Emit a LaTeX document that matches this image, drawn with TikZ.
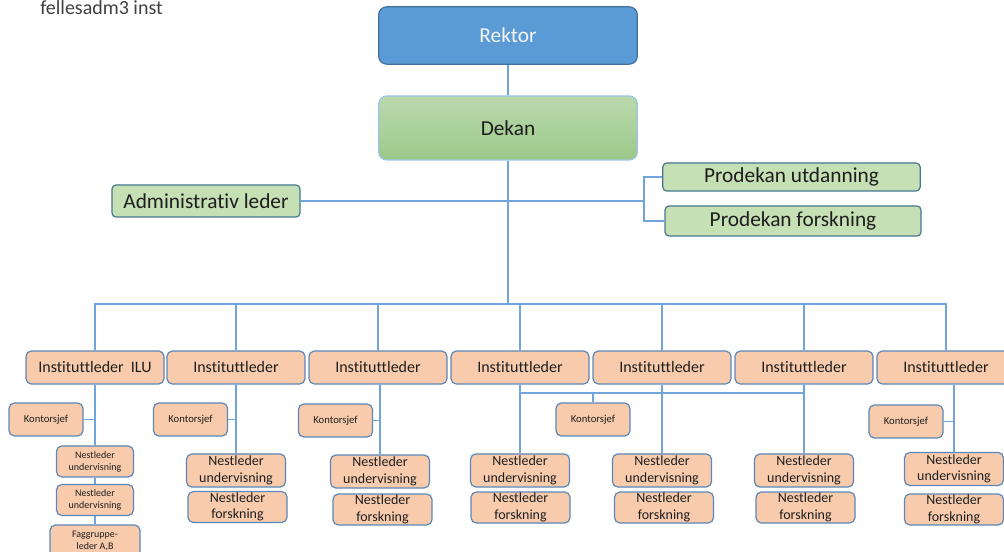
\documentclass[tikz,border=0pt]{standalone}
\usepackage{fontspec}
\setmainfont{Carlito}[Ligatures=NoCommon]
\usepackage{xcolor}
\usetikzlibrary{calc}
\definecolor{rektorblue}{HTML}{5B9BD5}
\definecolor{darkborder}{HTML}{41719C}
\definecolor{dekantop}{HTML}{BAD9AD}
\definecolor{dekanbot}{HTML}{9CC98A}
\definecolor{lightborder}{HTML}{9DC3E6}
\definecolor{staffgreen}{HTML}{C5E0B4}
\definecolor{staffborder}{HTML}{46778F}
\definecolor{instorange}{HTML}{F8CBAD}
\definecolor{instborder}{HTML}{5B87B9}
\definecolor{linkblue}{HTML}{6FA4DC}
\definecolor{textdark}{HTML}{1E1E1E}
\tikzset{topbox/.style={rectangle,draw=darkborder,line width=0.9pt,fill=rektorblue,rounded corners=6pt,minimum width=194pt,minimum height=43pt,text=white!92!gray,font=\fontsize{16}{19}\selectfont},
         deanbox/.style={rectangle,draw=lightborder,line width=0.9pt,top color=dekantop,bottom color=dekanbot,rounded corners=6pt,minimum width=194pt,minimum height=48pt,text=textdark,font=\fontsize{16}{19}\selectfont},
         staffbox/.style={rectangle,draw=staffborder,line width=0.9pt,fill=staffgreen,rounded corners=3pt,inner sep=0pt,text=textdark,font=\fontsize{16}{19}\selectfont},
         instbox/.style={rectangle,draw=instborder,line width=0.9pt,fill=instorange,rounded corners=4pt,minimum width=103.5pt,minimum height=24.75pt,inner sep=0pt,text=textdark,font=\fontsize{12}{14}\selectfont},
         officebox/.style={rectangle,draw=instborder,line width=0.9pt,fill=instorange,rounded corners=4pt,minimum width=55.5pt,minimum height=24.75pt,inner sep=0pt,text=textdark,font=\fontsize{8}{9.5}\selectfont},
         deputybox/.style={rectangle,draw=instborder,line width=0.9pt,fill=instorange,rounded corners=4pt,minimum width=74.25pt,minimum height=24.75pt,inner sep=0pt,align=center,text=textdark,font=\fontsize{10.5}{12.4}\selectfont},
         tinybox/.style={rectangle,draw=instborder,line width=0.9pt,fill=instorange,rounded corners=4pt,minimum width=57.75pt,minimum height=23.25pt,inner sep=0pt,align=center,text=textdark,font=\fontsize{7.5}{9}\selectfont},
         link/.style={draw=linkblue,line width=1.1pt}}
\begin{document}
\begin{tikzpicture}[x=0.75pt,y=-0.75pt]
    \useasboundingbox (0,0) rectangle (1004,552);
    \clip (0,0) rectangle (1004,552);
    % Title
    \node (title) at (40,15) [anchor=base west,inner sep=0pt,text=textdark!85,font=\fontsize{15}{18}\selectfont]{fellesadm3 inst};
    % Top level
    \node (rektor) at (508,35.5) [topbox]{Rektor};
    \node (dekan) at (508,128) [deanbox]{Dekan};
    \node (admin) at (206,201) [staffbox,minimum width=141pt,minimum height=24pt]{Administrativ leder};
    \node (produt) at (791.5,177) [staffbox,minimum width=193pt,minimum height=21pt]{Prodekan utdanning};
    \node (prodforsk) at (793,221) [staffbox,minimum width=192pt,minimum height=22.5pt]{Prodekan forskning};
    \coordinate (split) at (644,201);
    \coordinate (bus) at (508,304);
    % Institutes
    \node (inst1) at (95,367.5) [instbox]{Instituttleder\ \ ILU};
    \node (inst2) at (236,367.5) [instbox]{Instituttleder};
    \node (inst3) at (378,367.5) [instbox]{Instituttleder};
    \node (inst4) at (520,367.5) [instbox]{Instituttleder};
    \node (inst5) at (662,367.5) [instbox]{Instituttleder};
    \node (inst6) at (804,367.5) [instbox]{Instituttleder};
    \node (inst7) at (946,367.5) [instbox]{Instituttleder};
    % Offices
    \node (office1) at (46,419.5) [officebox]{Kontorsjef};
    \node (office2) at (190.5,419.5) [officebox]{Kontorsjef};
    \node (office3) at (335.5,420.5) [officebox]{Kontorsjef};
    \node (office45) at (593,419.5) [officebox]{Kontorsjef};
    \node (office7) at (906,421.5) [officebox]{Kontorsjef};
    \coordinate (hub) at (593,393);
    % Deputies, ILU
    \node (iluedu1) at (95,461.5) [tinybox]{Nestleder\\undervisning};
    \node (iluedu2) at (95,500) [tinybox]{Nestleder\\undervisning};
    \node (group) at (95,541) [tinybox,minimum width=67.5pt,minimum height=24pt]{Faggruppe-\\leder A,B};
    % Deputies
    \node (edu2) at (236,470.5) [deputybox]{Nestleder\\undervisning};
    \node (res2) at (237.5,507) [deputybox,minimum height=23.25pt]{Nestleder\\forskning};
    \node (edu3) at (380,471.5) [deputybox]{Nestleder\\undervisning};
    \node (res3) at (382.5,509.5) [deputybox,minimum height=23.25pt]{Nestleder\\forskning};
    \node (edu4) at (520,470.5) [deputybox]{Nestleder\\undervisning};
    \node (res4) at (520.5,507.5) [deputybox,minimum height=23.25pt]{Nestleder\\forskning};
    \node (edu5) at (662,470.5) [deputybox]{Nestleder\\undervisning};
    \node (res5) at (664,507.5) [deputybox,minimum height=23.25pt]{Nestleder\\forskning};
    \node (edu6) at (804,470.5) [deputybox]{Nestleder\\undervisning};
    \node (res6) at (805.5,507.5) [deputybox,minimum height=23.25pt]{Nestleder\\forskning};
    \node (edu7) at (954,469) [deputybox]{Nestleder\\undervisning};
    \node (res7) at (954,509.5) [deputybox,minimum height=23.25pt]{Nestleder\\forskning};
    % Links, top
    \draw[link] (rektor.south) -- (dekan.north);
    \draw[link] (dekan.south) -- (bus);
    \draw[link] (admin.east) -- (split);
    \draw[link] (produt.west) -| (split) |- (prodforsk.west);
    \draw[link] (inst1.north) |- (bus) -| (inst7.north);
    \draw[link] (inst2.north) -- (inst2.north |- bus);
    \draw[link] (inst3.north) -- (inst3.north |- bus);
    \draw[link] (inst4.north) -- (inst4.north |- bus);
    \draw[link] (inst5.north) -- (inst5.north |- bus);
    \draw[link] (inst6.north) -- (inst6.north |- bus);
    % Links, institutes
    \draw[link] (inst1.south) -- (iluedu1.north);
    \draw[link] (iluedu1.south) -- (iluedu2.north);
    \draw[link] (iluedu2.south) -- (group.north);
    \draw[link] (office1.east) -- (office1.east -| inst1.south);
    \draw[link] (inst2.south) -- (edu2.north);
    \draw[link] (office2.east) -- (office2.east -| inst2.south);
    \draw[link] (edu3.north) -- (edu3.north |- inst3.south);
    \draw[link] (office3.east) -- (office3.east -| edu3.north);
    \draw[link] (inst4.south) -- (edu4.north);
    \draw[link] (inst5.south) -- (edu5.north);
    \draw[link] (inst6.south) -- (edu6.north);
    \draw[link] (edu4.north |- hub) -- (edu6.north |- hub);
    \draw[link] (office45.north) -- (hub);
    \draw[link] (edu7.north) -- (edu7.north |- inst7.south);
    \draw[link] (office7.east) -- (office7.east -| edu7.north);
\end{tikzpicture}
\end{document}
